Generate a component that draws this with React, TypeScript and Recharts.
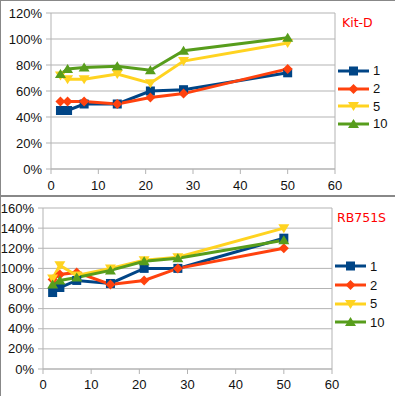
import { LineChart, Line, XAxis, YAxis, CartesianGrid, Legend, ReferenceLine } from "recharts";

// sampling points (x axis) shared by both charts
const DAYS = [2, 3.5, 7, 14, 21, 28, 50];

// Kit-D, values in %
const KIT_1 = [45, 45, 50, 50, 60, 61, 74];
const KIT_2 = [52, 52, 52, 50, 55, 58, 77];
const KIT_5 = [72, 69, 69, 73, 66, 83, 97];
const KIT_10 = [73, 77, 78, 79, 76, 91, 101];

// RB751S, values in %
const RB_1 = [76, 81, 88, 85, 100, 100, 130];
const RB_2 = [89, 94, 96, 84, 88, 100, 120];
const RB_5 = [90, 103, 93, 100, 108, 111, 140];
const RB_10 = [84, 88, 91, 98, 107, 110, 128];

const X_TICKS = [0, 10, 20, 30, 40, 50, 60];
const KIT_Y_TICKS = [0, 20, 40, 60, 80, 100, 120];
const RB_Y_TICKS = [0, 20, 40, 60, 80, 100, 120, 140, 160];

const SERIES = [
  { key: "s1", name: "1", color: "#004586", shape: "square" },
  { key: "s2", name: "2", color: "#ff420e", shape: "diamond" },
  { key: "s5", name: "5", color: "#ffd320", shape: "triDown" },
  { key: "s10", name: "10", color: "#579d1c", shape: "triUp" },
];

const GRID = "#b3b3b3";
const FONT = "'Liberation Sans', Arial, sans-serif";

function buildRows(a: number[], b: number[], c: number[], d: number[]) {
  return DAYS.map((day, i) => ({ day, s1: a[i], s2: b[i], s5: c[i], s10: d[i] }));
}

const kitData = buildRows(KIT_1, KIT_2, KIT_5, KIT_10);
const rbData = buildRows(RB_1, RB_2, RB_5, RB_10);

function Marker({ cx, cy, shape, color }: { cx: number; cy: number; shape: string; color: string }) {
  if (cx == null || cy == null) return null;
  if (shape === "square") {
    return <rect x={cx - 4.5} y={cy - 4.5} width={9} height={9} fill={color} />;
  }
  if (shape === "diamond") {
    return <polygon points={`${cx},${cy - 5} ${cx + 5},${cy} ${cx},${cy + 5} ${cx - 5},${cy}`} fill={color} />;
  }
  if (shape === "triDown") {
    return <polygon points={`${cx - 5.5},${cy - 4} ${cx + 5.5},${cy - 4} ${cx},${cy + 5}`} fill={color} />;
  }
  return <polygon points={`${cx - 5.5},${cy + 4} ${cx + 5.5},${cy + 4} ${cx},${cy - 5}`} fill={color} />;
}

function LegendBox({ rowH }: { rowH: number }) {
  return (
    <div>
      {SERIES.map((s) => (
        <div key={s.key} style={{ height: rowH, display: "flex", alignItems: "center" }}>
          <svg width={33} height={12} style={{ display: "block" }}>
            <line x1={1} y1={6} x2={32} y2={6} stroke={s.color} strokeWidth={3} />
            <Marker cx={16.5} cy={6} shape={s.shape} color={s.color} />
          </svg>
          <span style={{ fontFamily: FONT, fontSize: 13, color: "#111", marginLeft: 3 }}>{s.name}</span>
        </div>
      ))}
    </div>
  );
}

function Panel({
  data,
  yTicks,
  yMax,
  width,
  height,
  yAxisWidth,
  rightMargin,
  xAxisHeight,
  xTickMargin,
  legendLeft,
  rowH,
}: any) {
  return (
    <LineChart width={width} height={height} data={data} margin={{ top: 13, right: rightMargin, left: 0, bottom: 0 }}>
      <CartesianGrid vertical={false} stroke={GRID} />
      <ReferenceLine x={60} stroke={GRID} />
      <XAxis
        dataKey="day"
        type="number"
        domain={[0, 60]}
        ticks={X_TICKS}
        interval={0}
        height={xAxisHeight}
        stroke={GRID}
        tickSize={5}
        tickMargin={xTickMargin}
        tick={{ fill: "#111", fontSize: 13, fontFamily: FONT }}
      />
      <YAxis
        type="number"
        domain={[0, yMax]}
        ticks={yTicks}
        interval={0}
        width={yAxisWidth}
        stroke={GRID}
        tickSize={5}
        tickMargin={4}
        tickFormatter={(v: number) => `${v}%`}
        tick={{ fill: "#111", fontSize: 13, fontFamily: FONT }}
      />
      <Legend
        layout="vertical"
        align="right"
        verticalAlign="top"
        wrapperStyle={{ left: legendLeft, top: 62, width: 55 }}
        content={() => <LegendBox rowH={rowH} />}
      />
      {SERIES.map((s) => (
        <Line
          key={s.key}
          dataKey={s.key}
          name={s.name}
          stroke={s.color}
          strokeWidth={3}
          type="linear"
          isAnimationActive={false}
          dot={(p: any) => <Marker key={`${s.key}-${p.index}`} cx={p.cx} cy={p.cy} shape={s.shape} color={s.color} />}
          activeDot={false}
        />
      ))}
    </LineChart>
  );
}

export default function App() {
  const title = { position: "absolute" as const, fontFamily: "'DejaVu Sans', sans-serif", fontSize: 12.5, color: "#ff0000" };
  return (
    <div style={{ position: "absolute", left: 0, top: 0, width: 395, height: 396, background: "#fff", overflow: "hidden" }}>
      <div style={{ position: "absolute", left: 0, top: 0, width: 395, height: 195, borderTop: "1px solid #888", borderLeft: "1px solid #888", boxSizing: "border-box" }}>
        <div style={{ position: "absolute", left: -1, top: -1 }}>
          <Panel data={kitData} yTicks={KIT_Y_TICKS} yMax={120} width={395} height={195} yAxisWidth={51} rightMargin={5} xAxisHeight={26} xTickMargin={7} legendLeft={337} rowH={17.7} />
        </div>
        <div style={{ ...title, left: 341, top: 14 }}>Kit-D</div>
      </div>
      <div style={{ position: "absolute", left: 0, top: 195, width: 395, height: 201, borderTop: "2px solid #888", borderLeft: "1px solid #888", boxSizing: "border-box" }}>
        <div style={{ position: "absolute", left: -1, top: -2 }}>
          <Panel data={rbData} yTicks={RB_Y_TICKS} yMax={160} width={395} height={201} yAxisWidth={43} rightMargin={8} xAxisHeight={27} xTickMargin={6} legendLeft={334} rowH={18.7} />
        </div>
        <div style={{ ...title, left: 336, top: 13 }}>RB751S</div>
      </div>
    </div>
  );
}
